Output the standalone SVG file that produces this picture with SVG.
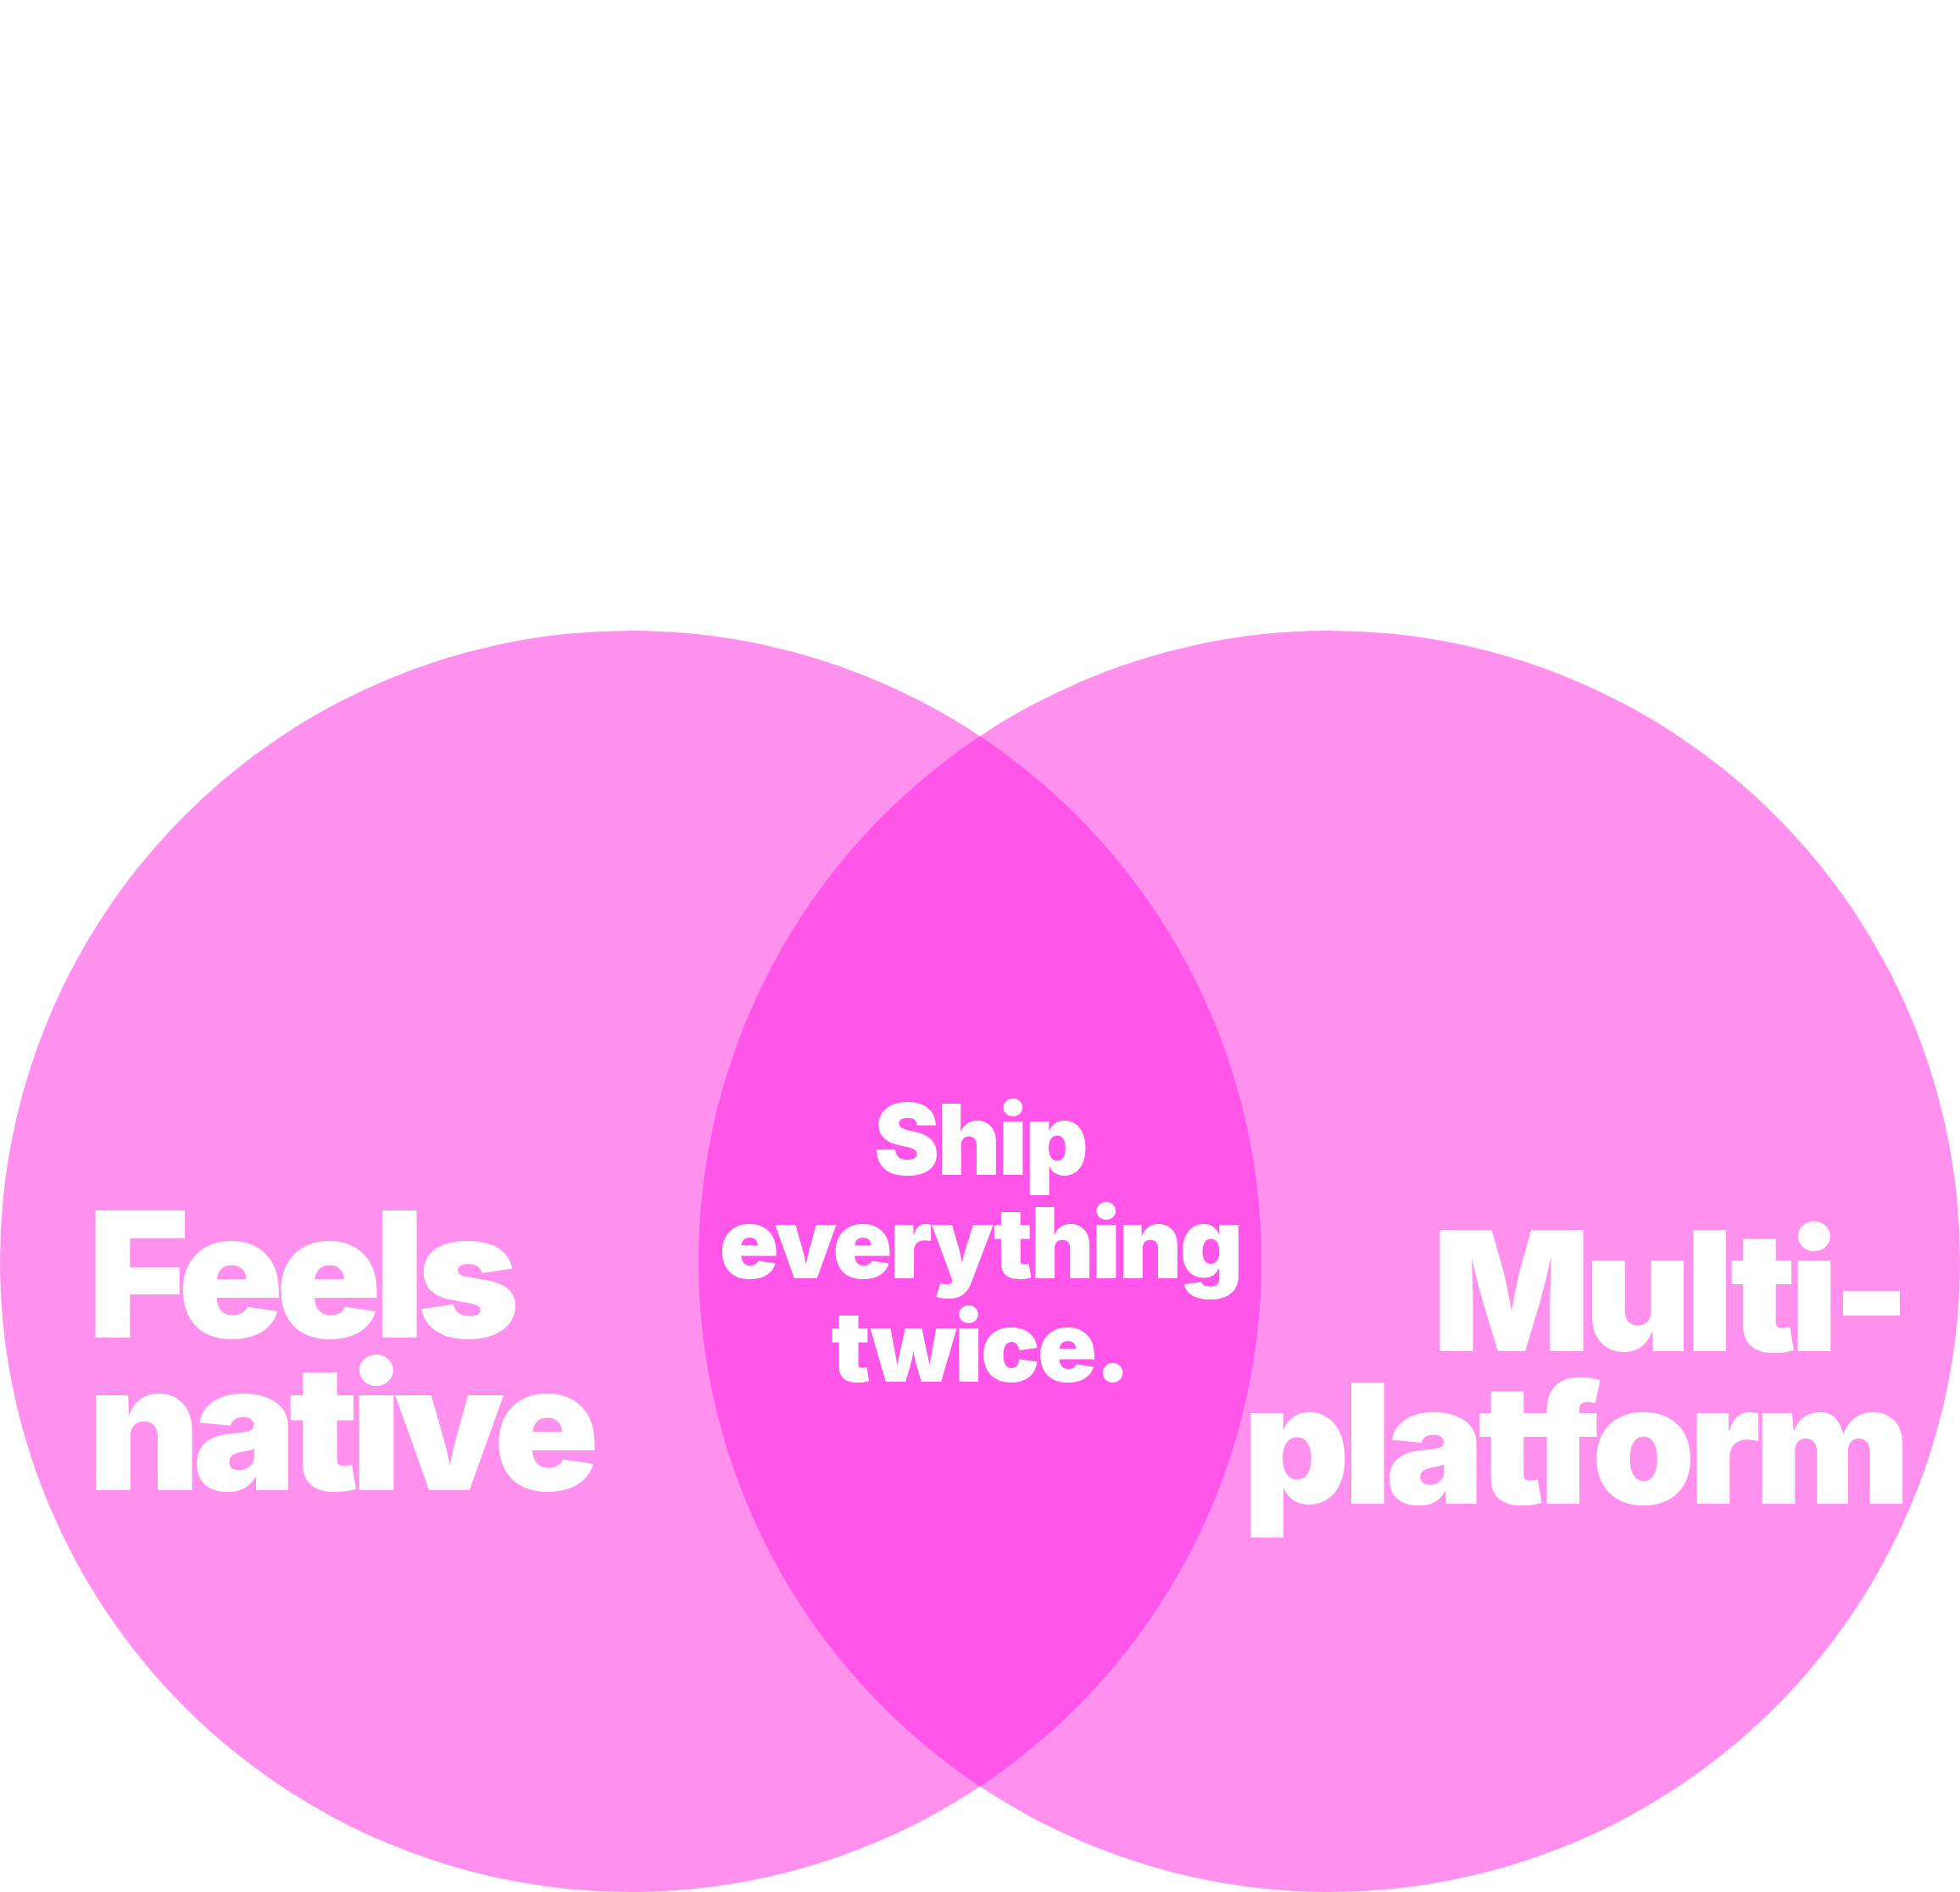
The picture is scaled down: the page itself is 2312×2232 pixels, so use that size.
<svg xmlns="http://www.w3.org/2000/svg" width="2312" height="2232" viewBox="0 0 2312 2232">
<style>
.c{fill:#FF90EE}
.lens{fill:#FF55E8}
.t{fill:#FFFFFF;font-family:Inter,"Noto Sans","Liberation Sans",sans-serif;font-weight:900}
.big{font-size:206px;letter-spacing:-9.5px}
.rt{font-size:196px;letter-spacing:-8px}
.mid{font-size:116px;letter-spacing:-3px}
</style>
<rect width="2312" height="2232" fill="#FFFFFF"/>
<g id="left-circle">
<circle class="c" cx="744" cy="1488" r="744"/>
</g>
<g id="right-circle">
<circle class="c" cx="1568" cy="1488" r="744"/>
</g>
<g id="intersection">
<path class="lens" d="M1156 868.5 A744 744 0 0 1 1156 2107.5 A744 744 0 0 1 1156 868.5 Z"/>
</g>
<g id="connectors"></g>
<g id="label-left">
<text class="t big" x="103" y="1578">Feels</text>
<text class="t big" x="103" y="1758">native</text>
</g>
<g id="label-center">
<text class="t mid" x="1156" y="1386" text-anchor="middle">Ship</text>
<text class="t mid" x="1156" y="1508" text-anchor="middle">everything</text>
<text class="t mid" x="1156" y="1630" text-anchor="middle">twice.</text>
</g>
<g id="label-right">
<text class="t rt" x="2246" y="1594" text-anchor="end">Multi-</text>
<text class="t rt" x="2246" y="1774" text-anchor="end">platform</text>
</g>
</svg>
